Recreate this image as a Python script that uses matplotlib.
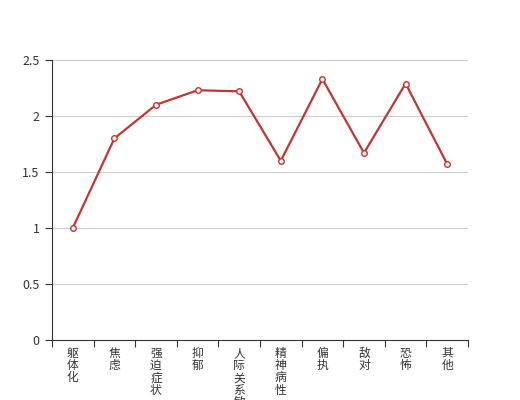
import matplotlib
matplotlib.use('Agg')
from matplotlib import pyplot as plt

plt.rcParams['font.family'] = ['Noto Sans CJK SC', 'DejaVu Sans']

# 各因子名称与得分
factors = ['躯体化', '焦虑', '强迫症状', '抑郁', '人际关系敏感',
           '精神病性', '偏执', '敌对', '恐怖', '其他']
scores = [1.0, 1.8, 2.1, 2.23, 2.22, 1.6, 2.33, 1.67, 2.29, 1.57]
y_ticks = [0, 0.5, 1, 1.5, 2, 2.5]
y_tick_labels = ['0', '0.5', '1', '1.5', '2', '2.5']

fig = plt.figure(figsize=(5.2, 4), dpi=100)
ax = fig.add_axes([52 / 520, 60 / 400, 416 / 520, 280 / 400])

x = list(range(len(factors)))
ax.plot(x, scores, color='#c23531', lw=1.6, marker='o', ms=4,
        mfc='white', mec='#c23531', mew=1, zorder=3)

ax.set_xlim(-0.5, len(factors) - 0.5)
ax.set_ylim(0, 2.5)
ax.set_yticks(y_ticks)
ax.set_yticklabels(y_tick_labels, fontsize=9, color='#333333')
ax.grid(axis='y', color='#cccccc', lw=0.8)
ax.set_axisbelow(True)

# x轴刻度放在类目边界上，标签竖排
ax.set_xticks([i - 0.5 for i in range(len(factors) + 1)])
ax.set_xticklabels([])
ax.set_xticks(x, minor=True)
ax.set_xticklabels(['\n'.join(f) for f in factors], minor=True,
                   fontsize=8.5, color='#333333', linespacing=0.92, va='top')
ax.tick_params(axis='x', which='minor', length=0, pad=5)
ax.tick_params(axis='x', which='major', length=5, color='#333333')
ax.tick_params(axis='y', length=5, color='#333333', pad=4)

for side in ['top', 'right']:
    ax.spines[side].set_visible(False)
ax.spines['left'].set_color('#333333')
ax.spines['bottom'].set_color('#333333')

fig.savefig('out.png', dpi=100)
